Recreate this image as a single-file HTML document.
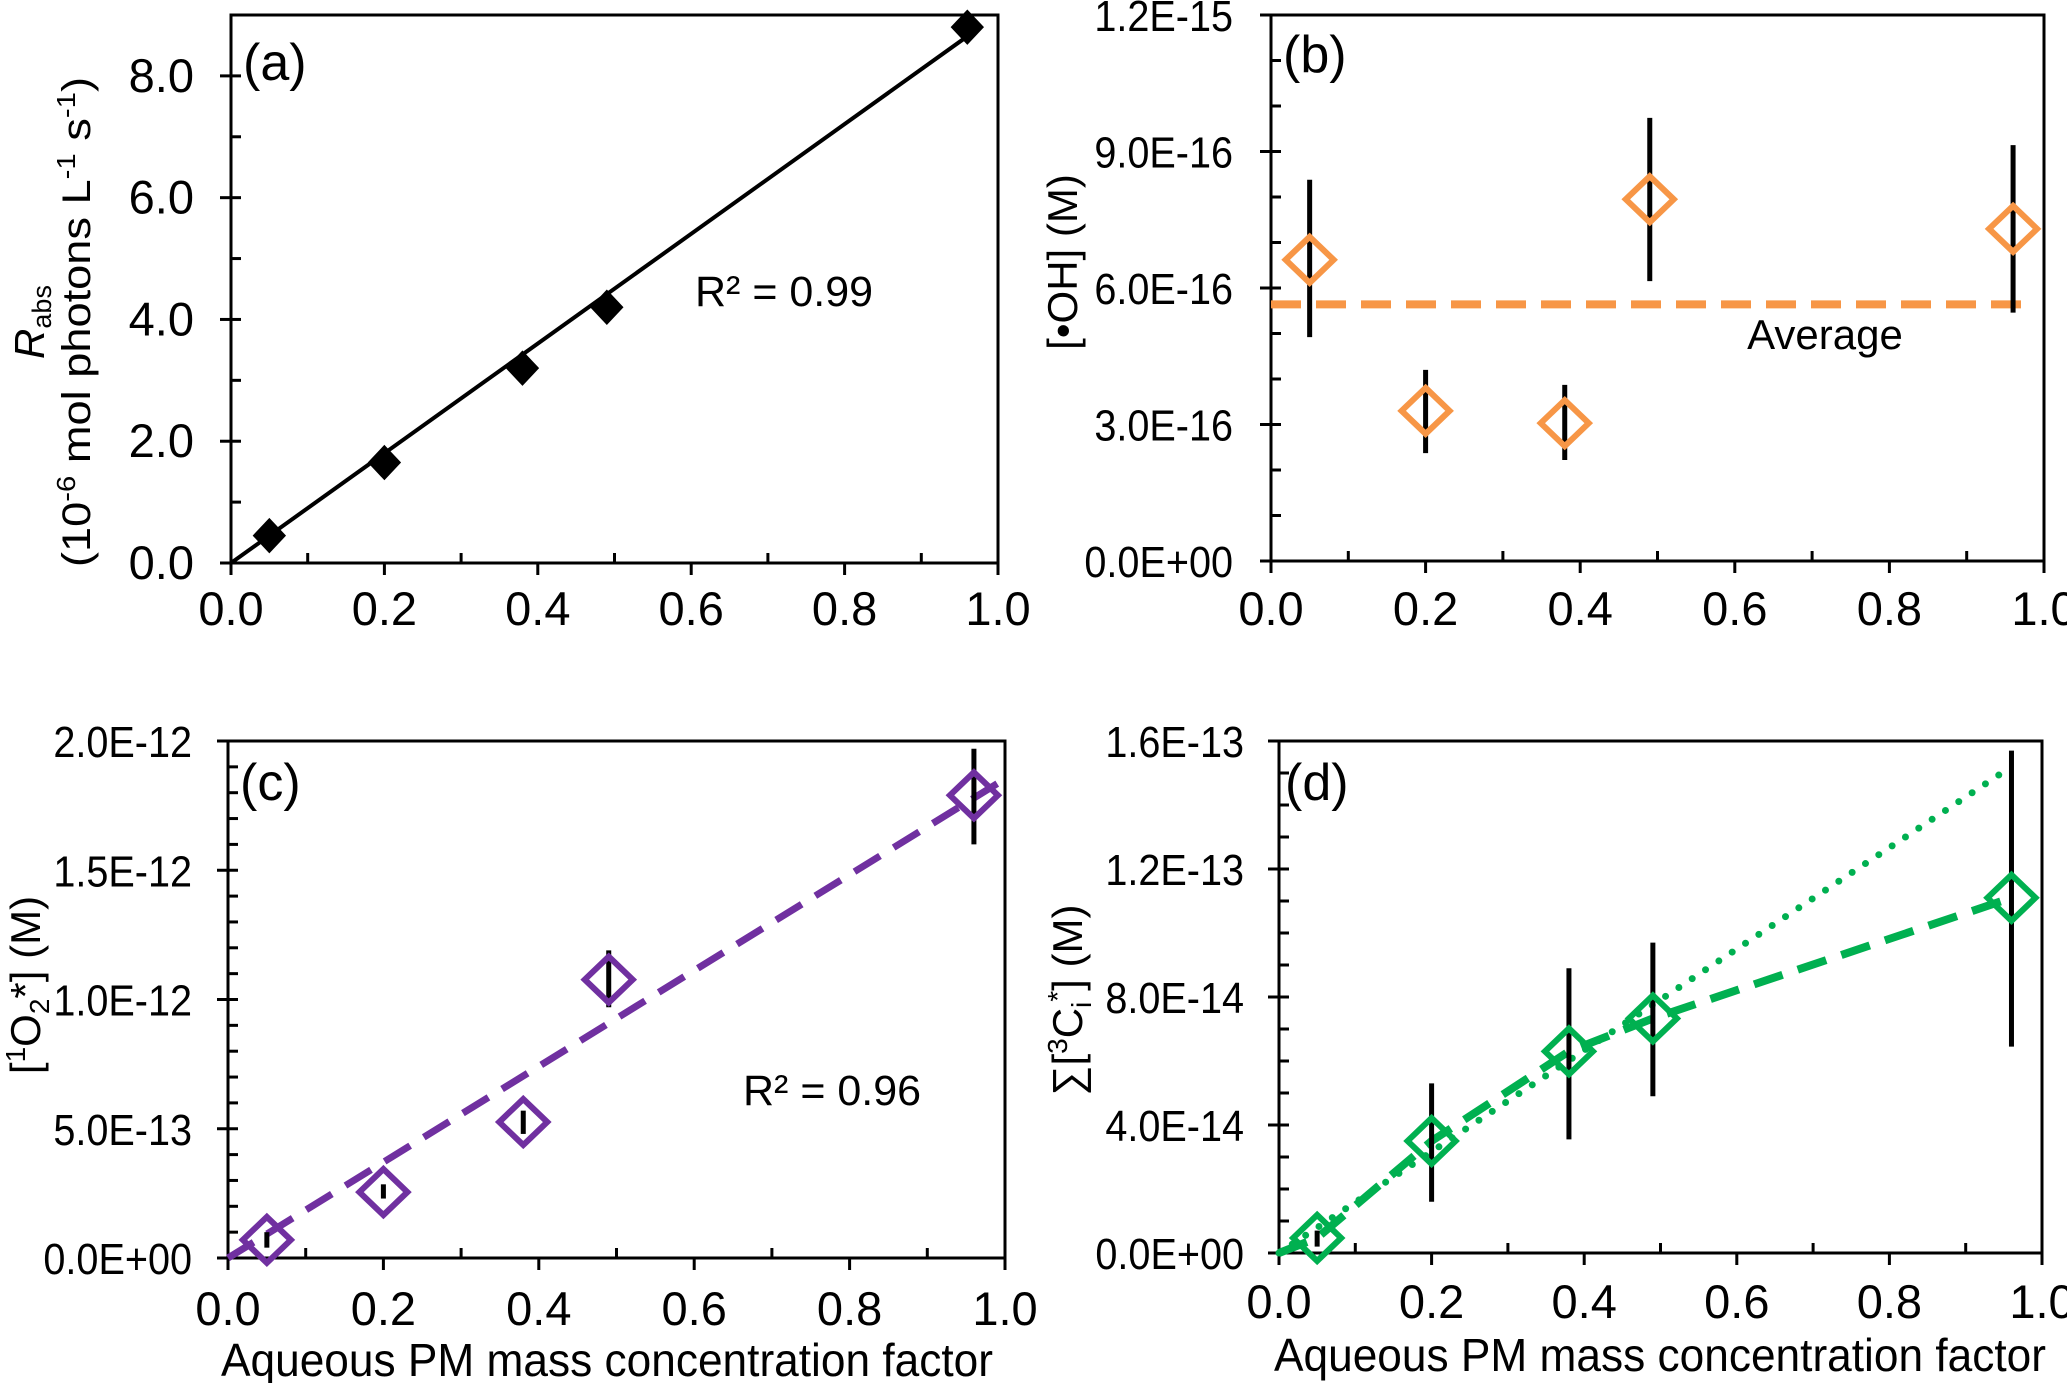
<!DOCTYPE html>
<html><head><meta charset="utf-8"><style>
html,body{margin:0;padding:0;background:#fff;overflow:hidden;}
svg{display:block;font-family:"Liberation Sans",sans-serif;}
</style></head><body>
<svg id="fig" width="2067" height="1383" viewBox="0 0 2067 1383" xmlns="http://www.w3.org/2000/svg"></svg>
<script>
// Panel (a)
const aX = [0.05, 0.2, 0.38, 0.49, 0.96];
const aY = [0.45, 1.65, 3.2, 4.2, 8.8];
const aFit = [0, 0, 0.96, 8.65];
const aTicks = ["0.0","2.0","4.0","6.0","8.0"];
// Panel (b)
const bX = [0.05, 0.2, 0.38, 0.49, 0.96];
const bY = [6.62e-16, 3.3e-16, 3.03e-16, 7.95e-16, 7.3e-16];
const bHi = [8.38e-16, 4.2e-16, 3.87e-16, 9.74e-16, 9.14e-16];
const bLo = [4.92e-16, 2.37e-16, 2.22e-16, 6.15e-16, 5.46e-16];
const bAvg = [5.64e-16];
const bTicks = ["0.0E+00","3.0E-16","6.0E-16","9.0E-16","1.2E-15"];
// Panel (c)
const cX = [0.05, 0.2, 0.38, 0.49, 0.96];
const cY = [0.07e-12, 0.255e-12, 0.526e-12, 1.077e-12, 1.79e-12];
const cHi = [0.1e-12, 0.285e-12, 0.57e-12, 1.19e-12, 1.97e-12];
const cLo = [0.04e-12, 0.23e-12, 0.48e-12, 0.97e-12, 1.60e-12];
const cFit = [0, 0, 0.99, 1.835e-12];
const cTicks = ["0.0E+00","5.0E-13","1.0E-12","1.5E-12","2.0E-12"];
// Panel (d)
const dX = [0.05, 0.2, 0.38, 0.49, 0.96];
const dY = [0.47e-14, 3.5e-14, 6.3e-14, 7.33e-14, 11.1e-14];
const dHi = [0.7e-14, 5.3e-14, 8.9e-14, 9.7e-14, 15.7e-14];
const dLo = [0.2e-14, 1.6e-14, 3.55e-14, 4.9e-14, 6.45e-14];
const dDot = [0, 0, 0.96, 15.2e-14];
const dTicks = ["0.0E+00","4.0E-14","8.0E-14","1.2E-13","1.6E-13"];
const xTicks = ["0.0","0.2","0.4","0.6","0.8","1.0"];

const NS="http://www.w3.org/2000/svg";
const svg=document.getElementById('fig');
function mk(tag,attrs,parent){const e=document.createElementNS(NS,tag);for(const k in attrs)e.setAttribute(k,attrs[k]);(parent||svg).appendChild(e);return e;}
function txt(s,x,y,size,sx,anchor,parent){const t=mk('text',{transform:`translate(${x},${y}) scale(${sx},1)`,'font-size':size,'text-anchor':anchor||'middle',fill:'#000'},parent);t.textContent=s;return t;}

function axes(P){
  const g=mk('g',{});
  
  
  const X=v=>P.L+(P.R-P.L)*v;
  const Y=v=>P.B-(P.B-P.T)*v/P.ymax;
  P.X=X;P.Y=Y;
  mk('rect',{x:P.L,y:P.T,width:P.R-P.L,height:P.B-P.T,fill:'none',stroke:'#000','stroke-width':3},g);
  for(let i=0;i<=10;i++){const x=X(i/10);
    if(i%2==0) mk('line',{x1:x,x2:x,y1:P.B,y2:P.B+12,stroke:'#000','stroke-width':3},g);
    else mk('line',{x1:x,x2:x,y1:P.B,y2:P.B-10,stroke:'#000','stroke-width':3},g);}
  xTicks.forEach((s,i)=>{const t=txt(s,X(i*0.2),P.xlab,47,1,'middle',g);
    });
  const nMin=Math.round(P.ymax/P.minorStep);
  for(let i=1;i<nMin;i++){const y=Y(P.minorStep*i);
    mk('line',{x1:P.L,x2:P.L+10,y1:y,y2:y,stroke:'#000','stroke-width':3},g);}
  P.ticks.forEach((s,i)=>{const y=Y(P.tickStep*i);
    mk('line',{x1:P.L-11,x2:P.L,y1:y,y2:y,stroke:'#000','stroke-width':3},g);
    const t=txt(s,P.ylabX,y+16,P.ysz,P.ysx,'end',g);
    });
  const lb=txt(P.label,P.labX,P.labY,52,1,'start',g);
  
  return g;
}
function diamond(x,y,hw,hh,fill,stroke,sw,name){
  const p=mk('polygon',{points:`${x},${y-hh} ${x+hw},${y} ${x},${y+hh} ${x-hw},${y}`,fill:fill,stroke:stroke,'stroke-width':sw});
  
  
}
function errbar(P,x,lo,hi){
  const l=mk('line',{x1:P.X(x),x2:P.X(x),y1:P.Y(lo),y2:P.Y(hi),stroke:'#000','stroke-width':5});
  
  
}

// ---- (a)
const A={name:'panel-a',L:231,R:998,T:15,B:563,ymax:9,ticks:aTicks,tickStep:2,minorStep:1,ylabX:194,ysz:47,ysx:1,xlab:625,label:'(a)',labX:243,labY:80};
axes(A);
const aLine=mk('line',{x1:A.X(aFit[0]),y1:A.Y(aFit[1]),x2:A.X(aFit[2]),y2:A.Y(aFit[3]),stroke:'#000','stroke-width':4});


aX.forEach((x,i)=>diamond(A.X(x),A.Y(aY[i]),16,17,'#000','#000',1,'data-point'));
const aR=txt('R² = 0.99',695,306,43,1,'start');


const aYT=mk('text',{transform:'translate(44,322) rotate(-90)','font-size':42,'text-anchor':'middle'});


aYT.innerHTML='<tspan font-style="italic">R</tspan><tspan font-size="27" dy="7">abs</tspan>';
const aYT2=mk('text',{transform:'translate(90,322) rotate(-90)','font-size':40,'text-anchor':'middle',textLength:490,lengthAdjust:'spacingAndGlyphs'});


aYT2.innerHTML='(10<tspan font-size="26" dy="-15">-6</tspan><tspan dy="15"> mol photons L</tspan><tspan font-size="26" dy="-15">-1</tspan><tspan dy="15"> s</tspan><tspan font-size="26" dy="-15">-1</tspan><tspan dy="15">)</tspan>';

// ---- (b)
const B={name:'panel-b',L:1271,R:2044,T:15,B:561,ymax:1.2e-15,ticks:bTicks,tickStep:3e-16,minorStep:1e-16,ylabX:1233,ysz:44,ysx:0.9,xlab:625,label:'(b)',labX:1283,labY:72};
axes(B);
const avg=mk('line',{x1:B.X(0),x2:B.X(0.98),y1:B.Y(bAvg[0]),y2:B.Y(bAvg[0]),stroke:'#F79646','stroke-width':8,'stroke-dasharray':'30 15'});


bX.forEach((x,i)=>errbar(B,x,bLo[i],bHi[i]));
bX.forEach((x,i)=>diamond(B.X(x),B.Y(bY[i]),24,23,'none','#F79646',6,'data-point'));
const avT=txt('Average',1825,349,42,1,'middle');


const bYT=mk('text',{transform:'translate(1077,262) rotate(-90)','font-size':42,'text-anchor':'middle'});


bYT.textContent='[•OH] (M)';

// ---- (c)
const C={name:'panel-c',L:228,R:1005,T:741,B:1258,ymax:2e-12,ticks:cTicks,tickStep:5e-13,minorStep:1e-13,ylabX:192,ysz:44,ysx:0.9,xlab:1325,label:'(c)',labX:240,labY:800};
axes(C);
const cL=mk('line',{x1:C.X(cFit[0]),y1:C.Y(cFit[1]),x2:C.X(cFit[2]),y2:C.Y(cFit[3]),stroke:'#7030A0','stroke-width':7,'stroke-dasharray':'30 16'});


cX.forEach((x,i)=>errbar(C,x,cLo[i],cHi[i]));
cX.forEach((x,i)=>diamond(C.X(x),C.Y(cY[i]),24,23,'none','#7030A0',6,'data-point'));
const cR=txt('R² = 0.96',743,1105,43,1,'start');


const cYT=mk('text',{transform:'translate(40,985) rotate(-90)','font-size':42,'text-anchor':'middle'});


cYT.innerHTML='[<tspan font-size="28" dy="-15">1</tspan><tspan dy="15">O</tspan><tspan font-size="28" dy="9">2</tspan><tspan dy="-9">*] (M)</tspan>';
const cXT=mk('text',{x:607,y:1376,'font-size':46,'text-anchor':'middle',textLength:772,lengthAdjust:'spacingAndGlyphs'});


cXT.textContent='Aqueous PM mass concentration factor';

// ---- (d)
const D={name:'panel-d',L:1279,R:2042,T:741,B:1253,ymax:1.6e-13,ticks:dTicks,tickStep:4e-14,minorStep:1e-14,ylabX:1244,ysz:44,ysx:0.9,xlab:1318,label:'(d)',labX:1285,labY:800};
axes(D);
const dD=mk('line',{x1:D.X(dDot[0]),y1:D.Y(dDot[1]),x2:D.X(dDot[2]),y2:D.Y(dDot[3]),stroke:'#00B050','stroke-width':7,'stroke-dasharray':'0 16','stroke-linecap':'round'});


const dPts=[[D.X(0),D.Y(0)]].concat(dX.map((x,i)=>[D.X(x),D.Y(dY[i])]));
const dL=mk('polyline',{points:dPts.map(p=>p.join(',')).join(' '),fill:'none',stroke:'#00B050','stroke-width':8,'stroke-dasharray':'30 16'});


dX.forEach((x,i)=>errbar(D,x,dLo[i],dHi[i]));
dX.forEach((x,i)=>diamond(D.X(x),D.Y(dY[i]),24,23,'none','#00B050',6,'data-point'));
const dYT=mk('text',{transform:'translate(1082,1000) rotate(-90)','font-size':42,'text-anchor':'middle'});


dYT.innerHTML='∑[<tspan font-size="28" dy="-15">3</tspan><tspan dy="15">C</tspan><tspan font-size="28" dy="9">i</tspan><tspan font-size="28" dy="-24">*</tspan><tspan dy="15">] (M)</tspan>';
const dXT=mk('text',{x:1660,y:1371,'font-size':46,'text-anchor':'middle',textLength:772,lengthAdjust:'spacingAndGlyphs'});


dXT.textContent='Aqueous PM mass concentration factor';
</script>
</body></html>
